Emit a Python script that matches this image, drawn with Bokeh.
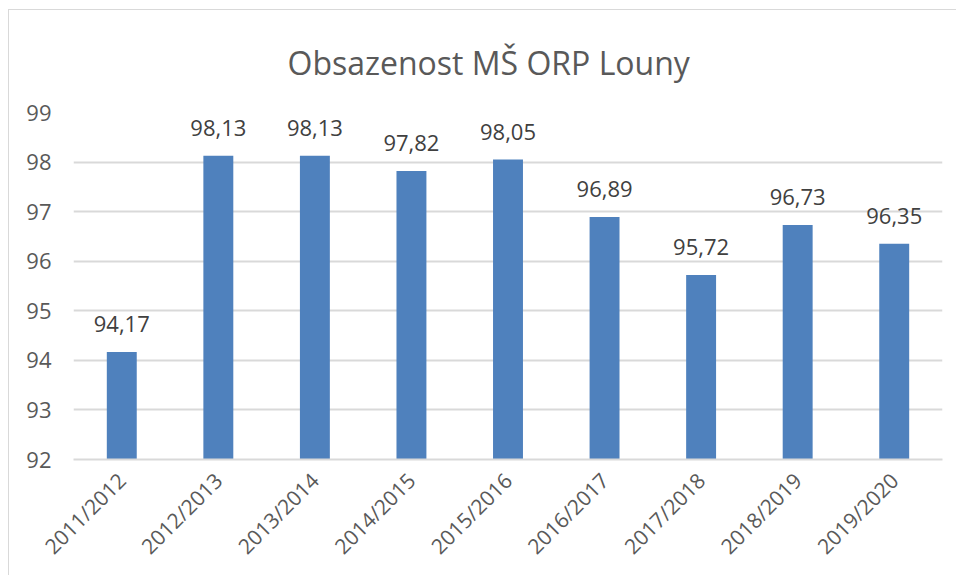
from bokeh.plotting import figure
from bokeh.models import ColumnDataSource, FixedTicker, FactorRange, Title
from bokeh.layouts import column
from bokeh.core.properties import value
from bokeh.embed import file_html
from bokeh.resources import INLINE
import math

categories = ["2011/2012", "2012/2013", "2013/2014", "2014/2015", "2015/2016",
              "2016/2017", "2017/2018", "2018/2019", "2019/2020"]
values = [94.17, 98.13, 98.13, 97.82, 98.05, 96.89, 95.72, 96.73, 96.35]
labels = [f"{v:.2f}".replace(".", ",") for v in values]
y_ticks = [92, 93, 94, 95, 96, 97, 98, 99]
title_text = "Obsazenost MŠ ORP Louny"

FONT = "Open Sans"
source = ColumnDataSource(data=dict(cat=categories, val=values, lab=labels))

p = figure(width=948, height=566, x_range=FactorRange(*categories, range_padding=0),
           y_range=(92, 99), output_backend="svg", toolbar_location=None,
           min_border_left=64, min_border_right=15, min_border_top=99, min_border_bottom=117,
           margin=(9, 0, 0, 8),
           styles={"border-left": "1px solid #d9d9d9", "border-top": "1px solid #d9d9d9"})

t = Title(text=title_text, align="left", text_font=FONT, text_font_size="32px",
          text_color="#595959", text_font_style="normal", offset=214, standoff=57)
p.add_layout(t, "above")

p.vbar(x="cat", top="val", bottom=92, width=0.31, source=source,
       fill_color="#4f81bd", line_color="#4f81bd", line_width=0)
p.text(x="cat", y="val", text="lab", source=source, text_align="center",
       text_baseline="alphabetic", y_offset=-28, text_font=value(FONT),
       text_font_size="22px", text_color="#404040")

p.outline_line_color = None
p.xgrid.grid_line_color = None
p.ygrid.grid_line_color = "#d9d9d9"
p.ygrid.grid_line_width = 2
p.yaxis.ticker = FixedTicker(ticks=y_ticks)

p.yaxis.axis_line_color = None
p.yaxis.major_tick_line_color = None
p.yaxis.minor_tick_line_color = None
p.yaxis.major_tick_out = 0
p.yaxis.major_tick_in = 0
p.yaxis.major_label_standoff = 22
p.yaxis.major_label_text_font = FONT
p.yaxis.major_label_text_font_size = "22px"
p.yaxis.major_label_text_color = "#595959"

p.xaxis.axis_line_color = "#d9d9d9"
p.xaxis.axis_line_width = 2
p.xaxis.major_tick_line_color = None
p.xaxis.minor_tick_line_color = None
p.xaxis.major_tick_out = 0
p.xaxis.major_tick_in = 0
p.xaxis.major_label_orientation = math.pi / 4
p.xaxis.major_label_standoff = 17
p.xaxis.major_label_text_font = FONT
p.xaxis.major_label_text_font_size = "21px"
p.xaxis.major_label_text_color = "#595959"

layout = column(p, width=956, height=575)
open("out.html", "w").write(file_html(layout, INLINE))
